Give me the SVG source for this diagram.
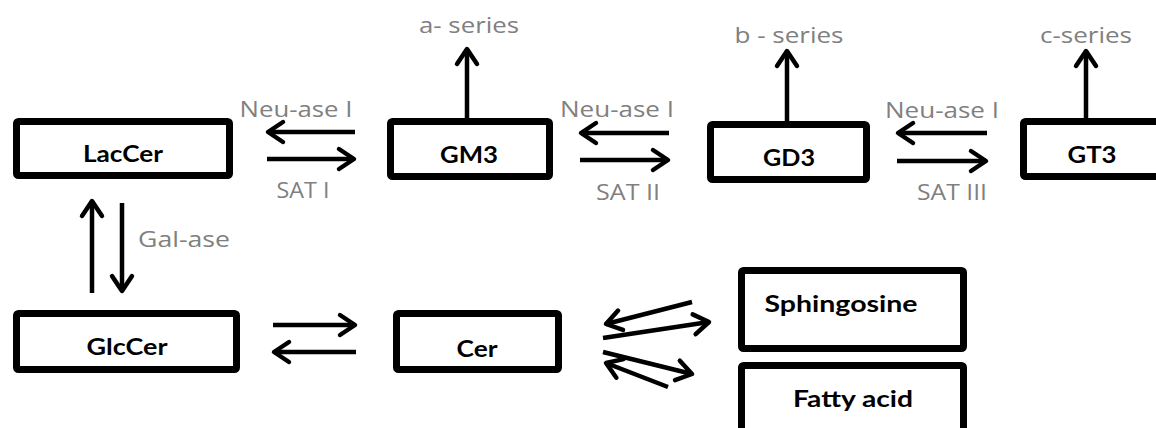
<svg xmlns="http://www.w3.org/2000/svg" width="1156" height="428" viewBox="0 0 1156 428">
<defs>
<marker id="ah" markerUnits="userSpaceOnUse" orient="auto" refX="0" refY="0" markerWidth="30" markerHeight="30" overflow="visible">
<path d="M-15,-10 L0,0 L-15,10" fill="none" stroke="#000" stroke-width="4.5" stroke-linecap="round" stroke-linejoin="round"/>
</marker>
</defs>
<style>
.box{fill:#fff;stroke:#000;stroke-width:7;}
.lbl{font-family:Lato,"Liberation Sans",sans-serif;font-weight:bold;font-size:23.5px;fill:#000;text-anchor:middle;}
.enz{font-family:"Open Sans","Liberation Sans",sans-serif;font-size:22px;fill:#808080;text-anchor:middle;}
.con line{stroke:#000;stroke-width:4.5;stroke-linecap:butt;marker-end:url(#ah);}
</style>
<rect width="1156" height="428" fill="#fff"/>
<g id="connectors" class="con">
<line x1="355" y1="132" x2="268" y2="132"/>
<line x1="267" y1="159" x2="354" y2="159"/>
<line x1="669" y1="133" x2="581" y2="133"/>
<line x1="580" y1="160" x2="668" y2="160"/>
<line x1="987" y1="133" x2="898" y2="133"/>
<line x1="897" y1="161" x2="986" y2="161"/>
<line x1="467" y1="118" x2="467" y2="49"/>
<line x1="787" y1="121" x2="787" y2="51"/>
<line x1="1086" y1="118" x2="1086" y2="51"/>
<line x1="92" y1="293" x2="92" y2="201"/>
<line x1="122" y1="203" x2="122" y2="291"/>
<line x1="273" y1="325" x2="355" y2="325"/>
<line x1="356" y1="352" x2="274" y2="352"/>
<line x1="692" y1="302" x2="606" y2="324"/>
<line x1="603" y1="338" x2="709" y2="322"/>
<line x1="603" y1="352" x2="692" y2="374"/>
<line x1="668" y1="387" x2="606" y2="363"/>
</g>
<g id="LacCer"><rect class="box" x="16.5" y="121.5" width="213" height="54" rx="2"/><text class="lbl" x="123" y="162" textLength="80" lengthAdjust="spacingAndGlyphs">LacCer</text></g>
<g id="GM3"><rect class="box" x="390.5" y="121.5" width="159" height="55" rx="2"/><text class="lbl" x="469" y="163" textLength="58" lengthAdjust="spacingAndGlyphs">GM3</text></g>
<g id="GD3"><rect class="box" x="710.5" y="124.5" width="156" height="55" rx="2"/><text class="lbl" x="789" y="166" textLength="52" lengthAdjust="spacingAndGlyphs">GD3</text></g>
<g id="GT3"><rect class="box" x="1023.5" y="121.5" width="200" height="55" rx="2"/><text class="lbl" x="1092" y="163" textLength="49" lengthAdjust="spacingAndGlyphs">GT3</text></g>
<g id="GlcCer"><rect class="box" x="16.5" y="313.5" width="220" height="56" rx="2"/><text class="lbl" x="127" y="355" textLength="81" lengthAdjust="spacingAndGlyphs">GlcCer</text></g>
<g id="Cer"><rect class="box" x="396.5" y="313.5" width="162" height="56" rx="2"/><text class="lbl" x="477" y="357" textLength="41" lengthAdjust="spacingAndGlyphs">Cer</text></g>
<g id="Sphingosine"><rect class="box" x="741.5" y="270.5" width="222" height="78" rx="2"/><text class="lbl" x="841" y="312" textLength="153" lengthAdjust="spacingAndGlyphs">Sphingosine</text></g>
<g id="FattyAcid"><rect class="box" x="741.5" y="365.5" width="222" height="100" rx="2"/><text class="lbl" x="853" y="407" textLength="120" lengthAdjust="spacingAndGlyphs">Fatty acid</text></g>
<g id="labels">
<text class="enz" x="296" y="117" textLength="113" lengthAdjust="spacingAndGlyphs">Neu-ase I</text>
<text class="enz" x="303" y="198" textLength="53" lengthAdjust="spacingAndGlyphs">SAT I</text>
<text class="enz" x="469" y="33" textLength="100" lengthAdjust="spacingAndGlyphs">a- series</text>
<text class="enz" x="617" y="117" textLength="114" lengthAdjust="spacingAndGlyphs">Neu-ase I</text>
<text class="enz" x="628" y="200" textLength="64" lengthAdjust="spacingAndGlyphs">SAT II</text>
<text class="enz" x="789" y="43" textLength="109" lengthAdjust="spacingAndGlyphs">b - series</text>
<text class="enz" x="942" y="118" textLength="114" lengthAdjust="spacingAndGlyphs">Neu-ase I</text>
<text class="enz" x="952" y="200" textLength="70" lengthAdjust="spacingAndGlyphs">SAT III</text>
<text class="enz" x="1086" y="43" textLength="92" lengthAdjust="spacingAndGlyphs">c-series</text>
<text class="enz" x="184" y="247" textLength="92" lengthAdjust="spacingAndGlyphs">Gal-ase</text>
</g>
</svg>
